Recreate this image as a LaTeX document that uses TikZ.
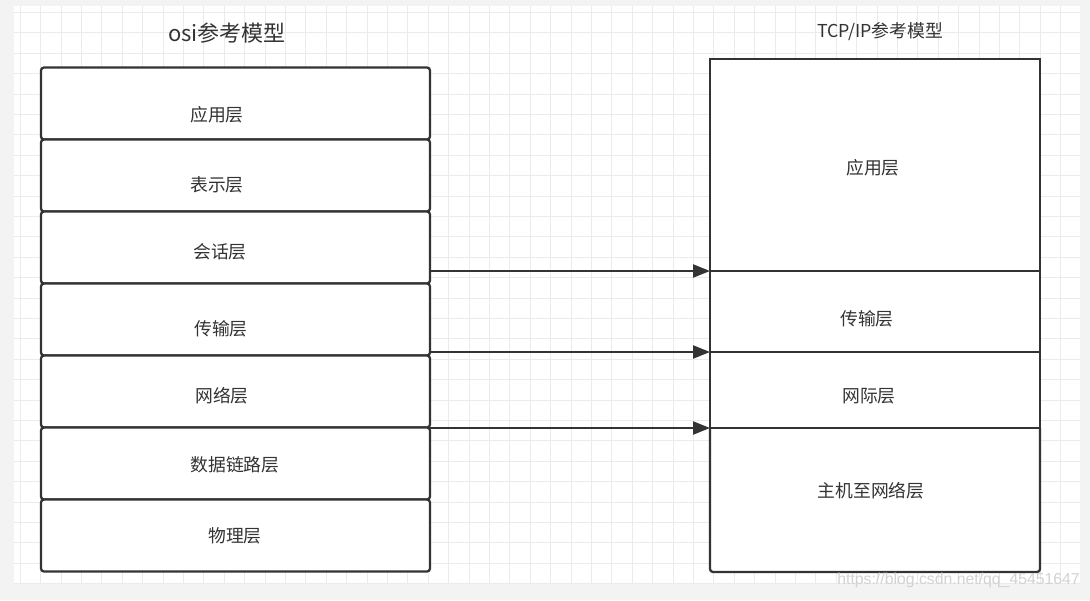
\documentclass[tikz,border=0pt]{standalone}
\usepackage{fontspec}
\setmainfont{Noto Sans CJK SC}
\newfontfamily\wmfont{Liberation Sans}
\usetikzlibrary{arrows.meta}
\definecolor{ink}{HTML}{333333}
\definecolor{outerbg}{HTML}{F3F3F3}
\definecolor{gridc}{HTML}{EBEBEB}
\definecolor{wmc}{HTML}{D2D2D2}
\tikzset{
  layerbox/.style={draw=ink, line width=2.3pt, fill=white, rounded corners=3pt, inner sep=0pt, outer sep=0pt, minimum width=389pt, minimum height=72pt},
  tcpbox/.style={draw=ink, line width=2.3pt, fill=white, inner sep=0pt, outer sep=0pt, minimum width=330pt},
  lbl/.style={text=ink, font=\fontsize{17.8}{20}\selectfont, inner sep=0pt},
  ttl/.style={text=ink, inner sep=0pt},
  arr/.style={draw=ink, line width=2.3pt, -{Triangle[length=17pt,width=13pt]}},
  gridline/.style={draw=gridc, line width=1pt}
}
\begin{document}
\begin{tikzpicture}[x=1pt,y=-1pt]
\useasboundingbox (0,0) rectangle (1090,600);
\fill[outerbg] (0,0) rectangle (1090,600);
\fill[white] (14,6) rectangle (1080,584);
\foreach \gx in {20.3,40.7,...,1080} {\draw[gridline] (\gx,6) -- (\gx,584);}
\foreach \gy in {12.5,32.9,...,584} {\draw[gridline] (14,\gy) -- (1080,\gy);}

% titles
\node[ttl, font=\fontsize{22}{24}\selectfont] (t1) at (227,33) {osi参考模型};
\node[ttl, font=\fontsize{17.8}{20}\selectfont] (t2) at (880,32) {TCP/IP参考模型};

% OSI stack
\node[layerbox] (l1) at (235.5,103.5) {};
\node[layerbox] (l2) at (235.5,175.5) {};
\node[layerbox] (l3) at (235.5,247.5) {};
\node[layerbox] (l4) at (235.5,319.5) {};
\node[layerbox] (l5) at (235.5,391.5) {};
\node[layerbox] (l6) at (235.5,463.5) {};
\node[layerbox] (l7) at (235.5,535.5) {};
\node[lbl] (lt1) at (217,115) {应用层};
\node[lbl] (lt2) at (217,185) {表示层};
\node[lbl] (lt3) at (220,252) {会话层};
\node[lbl] (lt4) at (221,329) {传输层};
\node[lbl] (lt5) at (222,396) {网络层};
\node[lbl] (lt6) at (235,465) {数据链路层};
\node[lbl] (lt7) at (235,536) {物理层};

% TCP/IP stack
\node[tcpbox, minimum height=212pt] (r1) at (875,165) {};
\node[tcpbox, minimum height=81pt] (r2) at (875,311.5) {};
\node[tcpbox, minimum height=76pt] (r3) at (875,390) {};
\node[tcpbox, draw=none, minimum height=144pt] (r4) at (875,500) {};
\draw[draw=ink, line width=2.3pt] (r4.north west) -- (r4.north east);
\draw[draw=ink, line width=2.3pt, rounded corners=3pt] (r4.north west) -- (r4.south west) -- (r4.south east) -- (r4.north east);
\node[lbl] (rt1) at (873,168) {应用层};
\node[lbl] (rt2) at (867,319) {传输层};
\node[lbl] (rt3) at (869,396) {网际层};
\node[lbl] (rt4) at (871,491) {主机至网络层};

% arrows
\draw[arr] (r1.south west -| l3.east) -- (r1.south west);
\draw[arr] (r2.south west -| l4.east) -- (r2.south west);
\draw[arr] (r3.south west -| l5.east) -- (r3.south west);

% watermark
\node[text=wmc, font=\wmfont\fontsize{15.8}{18}\selectfont, anchor=east, inner sep=0pt] (wm) at (1080,580) {https://blog.csdn.net/qq\_45451647};
\end{tikzpicture}
\end{document}
